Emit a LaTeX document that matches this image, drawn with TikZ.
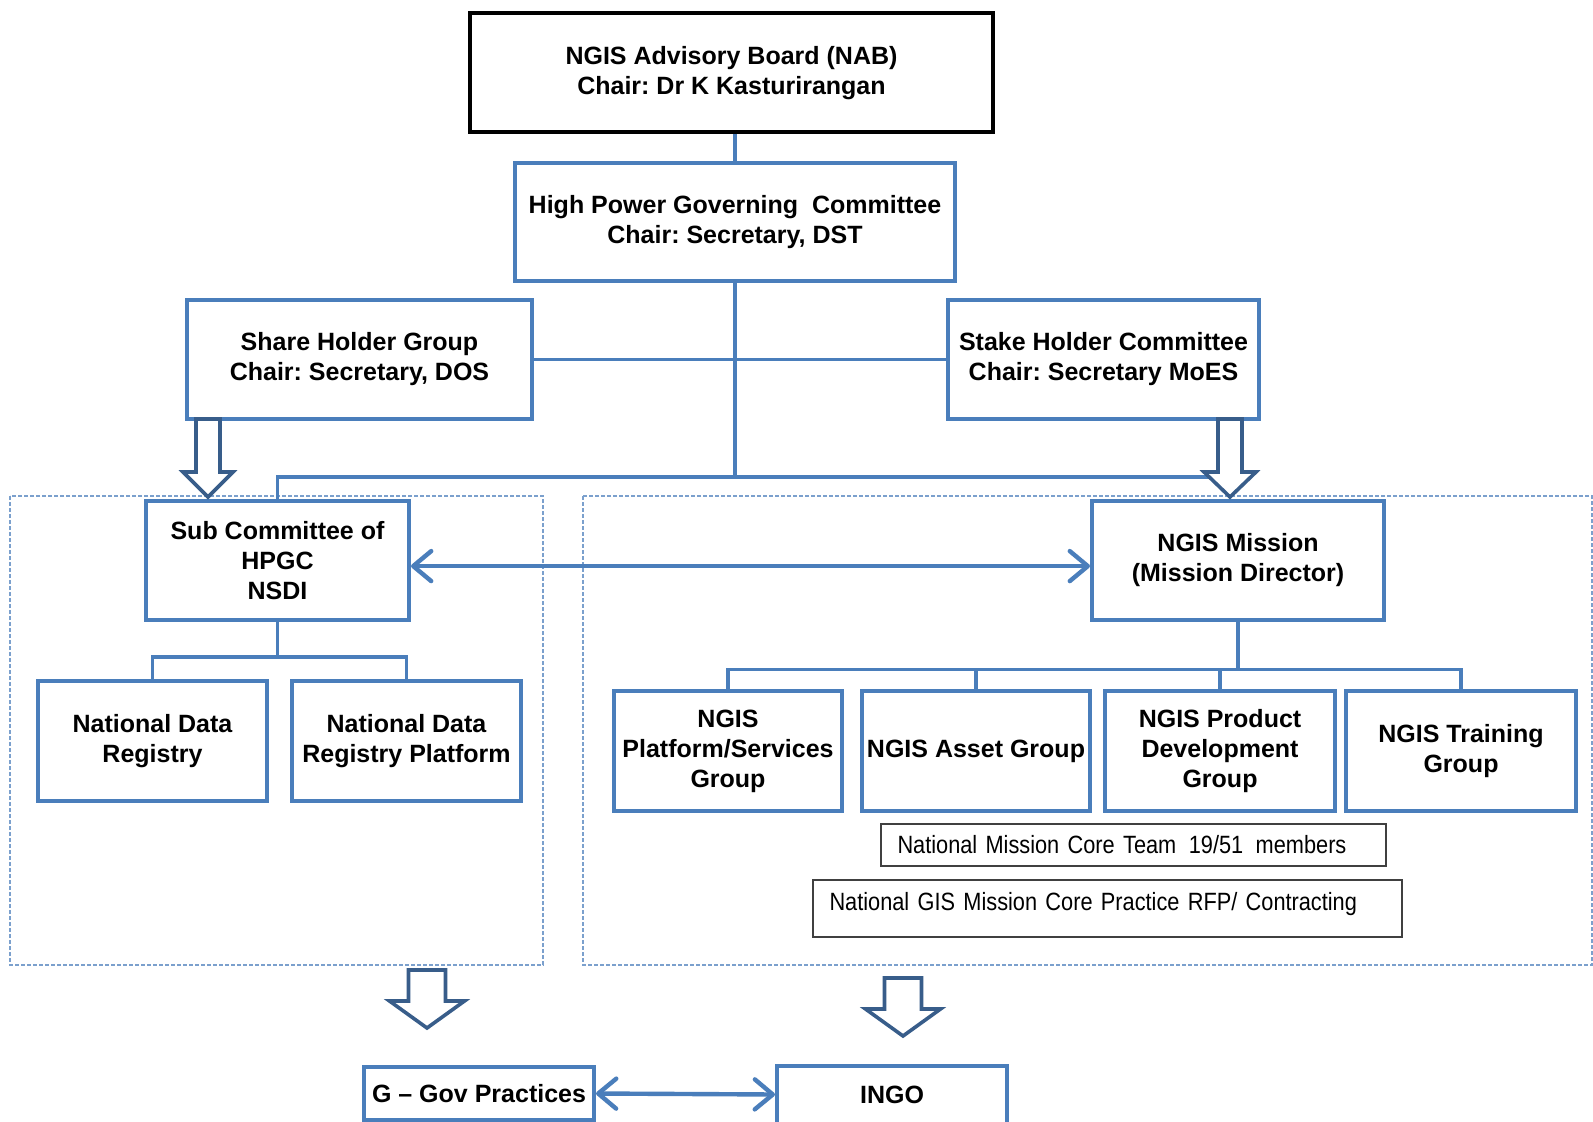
\documentclass[tikz,border=0pt]{standalone}
\usepackage{fontspec}
\setmainfont{Liberation Sans}
\newfontfamily\narrowfont[FakeStretch=0.87]{Liberation Sans}
\frenchspacing
\usetikzlibrary{arrows.meta}
\usetikzlibrary{positioning}
\tikzset{box/.style = {draw=mblue, line width=2pt, fill=white, align=center, inner sep=0,
    minimum height=59.5pt, font=\fontsize{12.5}{15}\selectfont\bfseries}}
\tikzset{thinbox/.style = {draw=black!75, line width=0.8pt, fill=white, inner sep=0,
    font=\narrowfont\fontsize{12.5}{15}\selectfont}}
\tikzset{link/.style = {draw=mblue, line width=1.6pt}}
\tikzset{twoway/.style = {draw=mblue, line width=2.2pt, {Straight Barb[length=9pt, width=15pt, round]}-{Straight Barb[length=9pt, width=15pt, round]}}}
\tikzset{hollow/.style = {draw=mdark, line width=1.8pt, fill=white, line join=miter}}
\tikzset{dashbox/.style = {draw=mlight, line width=0.8pt, dash pattern=on 2pt off 1pt}}
\definecolor{mblue}{HTML}{4A7EBB}
\definecolor{mdark}{HTML}{385D8A}
\definecolor{mlight}{HTML}{7BA0CD}

\begin{document}
\begin{tikzpicture}[x=0.5pt, y=-0.5pt]
      \useasboundingbox [fill=white] (0,0) rectangle (1593,1122);

      \draw [dashbox] (10,496) rectangle (543,965);
      \draw [dashbox] (583,496) rectangle (1592,965);

      \node [box, draw=black, minimum width=261.5pt] (NAB) at (731.5,73)
        {NGIS Advisory Board (NAB)\\Chair: Dr K Kasturirangan};
      \node [box, minimum width=220pt, minimum height=59pt] (HPGC) at (735,222)
        {High Power Governing\ \ Committee\\Chair: Secretary, DST};
      \node [box, minimum width=172.5pt] (Share) at (359.5,359.5)
        {Share Holder Group\\Chair: Secretary, DOS};
      \node [box, minimum width=155.5pt] (Stake) at (1103.5,359.5)
        {Stake Holder Committee\\Chair: Secretary MoES};
      \node [box, minimum width=131.5pt] (SubC) at (277.5,560.5)
        {Sub Committee of\\HPGC\\NSDI};
      \node [box, minimum width=146pt] (Mission) at (1238,560.5)
        {NGIS Mission\\(Mission Director)};

      \node [box, minimum width=114.5pt, minimum height=60pt] (NDR) at (152.5,741)
        {National Data\\Registry};
      \node [box, minimum width=114.5pt, minimum height=60pt, right=10.5pt of NDR] (NDRP)
        {National Data\\Registry Platform};

      \node [box, minimum width=114pt, minimum height=60pt] (Platform) at (728,751)
        {NGIS\\Platform/Services\\Group};
      \node [box, minimum width=114pt, minimum height=60pt, right=8pt of Platform] (Asset)
        {NGIS Asset Group};
      \node [box, minimum width=115pt, minimum height=60pt, right=5.5pt of Asset] (Product)
        {NGIS Product\\Development\\Group};
      \node [box, minimum width=115pt, minimum height=60pt, right=3.5pt of Product] (Training)
        {NGIS Training\\Group};

      \node [thinbox, minimum width=252.5pt, minimum height=21pt, text width=236pt,
        inner xsep=8pt, align=left] (CoreTeam) at (1133.5,845)
        {National Mission Core Team\enspace 19/51\enspace members};
      \node [thinbox, minimum width=294.5pt, minimum height=28.5pt, text width=278pt,
        inner xsep=8pt, align=left, text depth=7pt] (Practice) at (1107.5,908.5)
        {National GIS Mission Core Practice RFP/ Contracting};

      \node [box, minimum width=115pt, minimum height=26.5pt] (GGov) at (479,1093.5)
        {G -- Gov Practices};
      \node [box, minimum width=115pt, minimum height=29pt] (INGO) at (892,1094.5)
        {INGO};

      % tree lines
      \draw [link] (HPGC.north) -- (HPGC.north |- NAB.south);
      \draw [link] (Share.east) -- (Stake.west);
      \draw [link] (HPGC.south) -- ++(0,194) coordinate (hub);
      \draw [link] (SubC.north) |- (hub) -- ++(495,0) coordinate (tap);
      \draw [link] (SubC.south) -- ++(0,35) coordinate (sj);
      \draw [link] (NDR.north) |- (sj) -| (NDRP.north);
      \draw [link] (Mission.south) -- ++(0,47.5) coordinate (mj);
      \draw [link] (Platform.north) |- (mj) -| (Training.north);
      \foreach \n in {Asset, Product} {
        \draw [link] (\n.north) -- (\n.north |- mj);
      }

      \draw [twoway] ([yshift=-2.8pt]SubC.east) -- ([yshift=-2.8pt]Mission.west);
      \draw [twoway] (GGov.east) -- (INGO.west);

      % block arrows
      \foreach \x/\ya/\yb/\yc/\s/\h in {208/419/472/497/12/25, 1230/419/472/497/12/26,
          427/970/1001/1028/18.5/37.5, 903/978/1009/1036/18.5/37.5} {
        \draw [hollow] (\x-\s,\ya) -- (\x-\s,\yb) -- (\x-\h,\yb) -- (\x,\yc)
          -- (\x+\h,\yb) -- (\x+\s,\yb) -- (\x+\s,\ya) -- cycle;
      }
\end{tikzpicture}
\end{document}
